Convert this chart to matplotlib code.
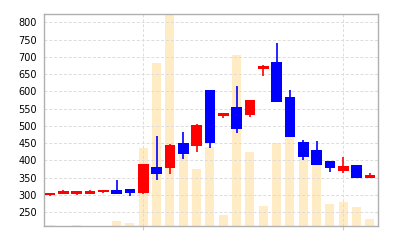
import matplotlib
matplotlib.use("Agg")
import matplotlib.pyplot as plt

# 日足データ (始値, 高値, 安値, 終値) と出来高
opens  = [300, 304, 303, 304, 308, 314, 317, 305, 381, 377, 451, 443, 603,
          530, 555, 532, 664, 685, 584, 454, 429, 397, 370, 386, 350]
highs  = [307, 313, 311, 313, 315, 343, 318, 389, 470, 447, 481, 504, 604,
          537, 615, 575, 675, 740, 604, 458, 457, 399, 409, 387, 364]
lows   = [296, 303, 299, 302, 306, 302, 297, 303, 342, 362, 405, 423, 435,
          522, 480, 525, 643, 568, 467, 402, 387, 365, 363, 348, 349]
closes = [306, 312, 310, 311, 313, 304, 305, 389, 361, 446, 419, 503, 450,
          536, 490, 574, 674, 569, 468, 410, 388, 378, 383, 349, 358]
volumes = [7, 5, 10, 3, 3, 53, 30, 783, 1633, 2300, 710, 567, 793, 110,
           1710, 737, 203, 827, 900, 680, 610, 220, 243, 193, 67]

y_ticks = [250, 300, 350, 400, 450, 500, 550, 600, 650, 700, 750, 800]
x_grid = [7, 22]

UP = "#ff0000"
DOWN = "#0000ff"
VOL = "#ffecc4"


def main():
    fig = plt.figure(figsize=(4, 2.4), dpi=100)
    ax = fig.add_axes([0.11, 0.0583, 0.834, 0.882])
    ax_vol = ax.twinx()

    # 出来高は背面に
    ax.set_zorder(ax_vol.get_zorder() + 1)
    ax.patch.set_visible(False)

    idx = list(range(len(opens)))
    ax_vol.bar(idx, volumes, width=0.68, color=VOL, linewidth=0)
    ax_vol.set_ylim(0, 2120)
    ax_vol.set_yticks([])
    for s in ax_vol.spines.values():
        s.set_visible(False)

    # ローソク足
    for i in idx:
        o, h, l, c = opens[i], highs[i], lows[i], closes[i]
        col = UP if c >= o else DOWN
        ax.vlines(i, l, h, color=col, linewidth=1.2, zorder=3)
        ax.bar(i, abs(c - o), bottom=min(o, c), width=0.8, color=col,
               linewidth=0, zorder=4)

    ax.set_xlim(-0.45, 24.58)
    ax.set_ylim(210, 823)
    ax.set_yticks(y_ticks)
    ax.set_xticks(x_grid)
    ax.set_xticklabels([])
    ax.tick_params(axis="y", length=0, pad=5, labelsize=7)
    ax.tick_params(axis="x", length=3, color="#cccccc")
    ax.grid(True, color="#dcdcdc", linestyle=(0, (3, 2)), linewidth=0.7)
    ax.set_axisbelow(True)
    for s in ax.spines.values():
        s.set_color("#b0b0b0")
        s.set_linewidth(1.0)

    fig.savefig("out.png", dpi=100, facecolor="white")


if __name__ == "__main__":
    main()
